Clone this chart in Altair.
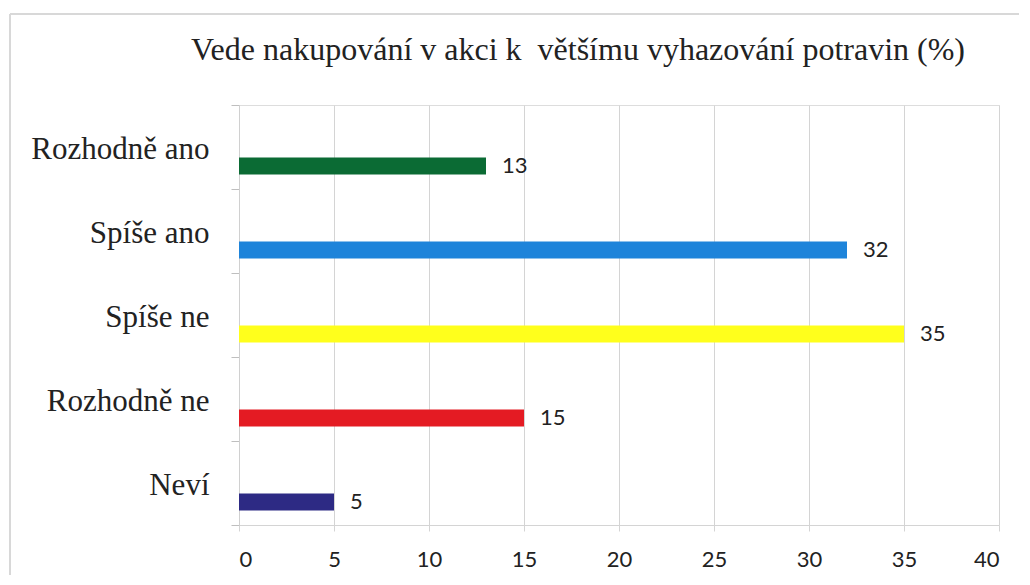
import altair as alt
import pandas as pd

categories = ["Rozhodně ano", "Spíše ano", "Spíše ne", "Rozhodně ne", "Neví"]
values = [13, 32, 35, 15, 5]
colors = ["#0b6b34", "#1e84da", "#ffff1c", "#e41b23", "#2d2a84"]
x_ticks = [0, 5, 10, 15, 20, 25, 30, 35, 40]
title_text = ["Vede nakupování v akci k\u00a0 většímu vyhazování potravin (%)"]

df = pd.DataFrame({"cat": categories, "val": values, "col": colors})
tdf = pd.DataFrame({"t": title_text})

y_enc = alt.Y("cat:N", sort=categories, title=None,
              scale=alt.Scale(paddingInner=0, paddingOuter=0),
              axis=alt.Axis(tickBand="extent", labelFont="Liberation Serif", labelFontSize=31,
                            labelColor="#222222", labelPadding=22, tickSize=8,
                            tickColor="#bfbfbf", domainColor="#d0d0d0", grid=False,
                            labelBaseline="middle", labelOffset=2))
x_enc = alt.X("val:Q", title=None,
              scale=alt.Scale(domain=[0, 40], nice=False),
              axis=alt.Axis(values=x_ticks, grid=True, gridColor="#d4d4d4",
                            domainColor="#d4d4d4", tickColor="#d4d4d4", tickSize=6,
                            labelFont="Lato", labelFontSize=22, labelColor="#222222",
                            labelPadding=18))

bars = alt.Chart(df).mark_bar(size=17, yOffset=19).encode(
    x=x_enc, y=y_enc, color=alt.Color("col:N", scale=None))

labels = alt.Chart(df).mark_text(align="left", dx=16, yOffset=19, fontSize=22,
                                 font="Lato", color="#222222").encode(
    x="val:Q", y=alt.Y("cat:N", sort=categories), text="val:Q")

title = alt.Chart(tdf).mark_text(font="Liberation Serif", fontSize=32, color="#222222",
                                 align="center", baseline="middle", clip=False).encode(
    x=alt.value(339), y=alt.value(-55), text="t:N")

frame_left = alt.Chart(df).mark_rule(color="#d8d8d8", strokeWidth=2, clip=False).encode(
    x=alt.value(-229), y=alt.value(-91), y2=alt.value(470))
frame_top = alt.Chart(df).mark_rule(color="#d8d8d8", strokeWidth=2, clip=False).encode(
    x=alt.value(-229), x2=alt.value(790), y=alt.value(-91))

chart = alt.layer(frame_left, frame_top, bars, labels, title).properties(
    width=760, height=420,
    autosize=alt.AutoSizeParams(type="none"),
    padding={"left": 231, "top": 97, "right": 20, "bottom": 50},
).configure_view(stroke=None).configure(background="white")

chart.save("out.html", embed_options={"renderer": "svg", "actions": False})
